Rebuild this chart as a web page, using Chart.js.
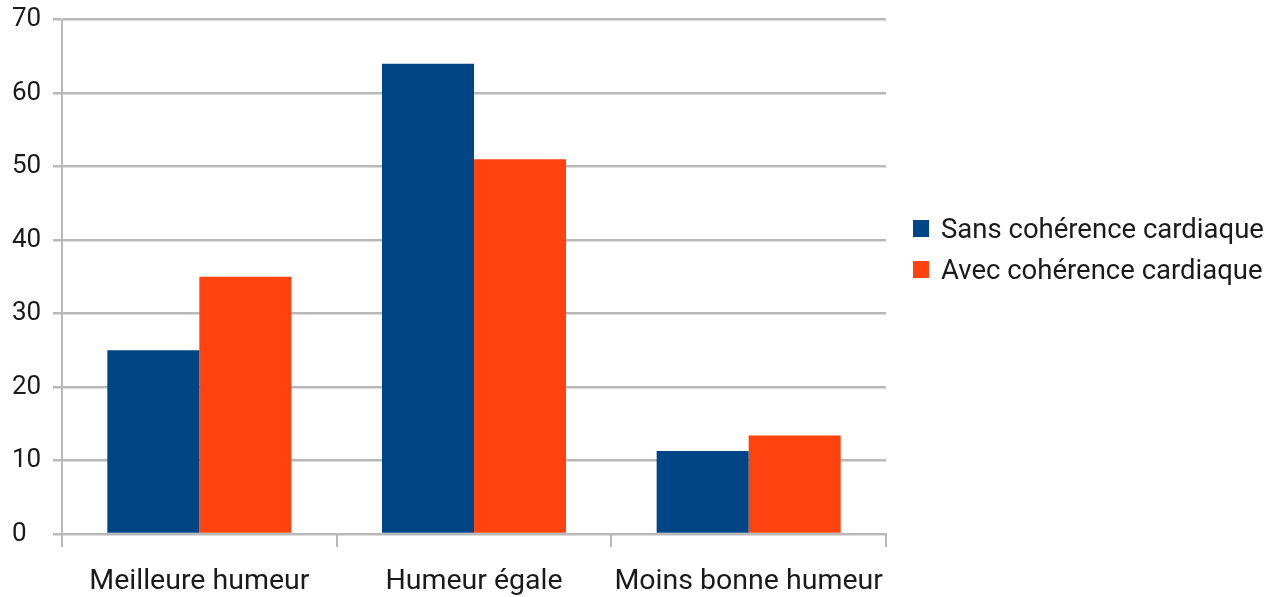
<!DOCTYPE html>
<html>
<head>
<meta charset="utf-8">
<script src="https://cdn.jsdelivr.net/npm/chart.js@4.4.0/dist/chart.umd.min.js"></script>
<style>
  html, body { margin: 0; padding: 0; background: #fff; }
  #wrap { position: relative; width: 1270px; height: 597px; }
  #legend { position: absolute; left: 913px; top: 208px; font-family: Roboto, sans-serif; font-size: 27.5px; color: #1a1a1a; }
  #legend div { height: 41px; display: flex; align-items: center; }
  #legend span.box { width: 16px; height: 17px; margin-right: 12px; display: inline-block; }
</style>
</head>
<body>
<div id="wrap">
  <canvas id="myChart" width="1270" height="597"></canvas>
  <div id="legend"></div>
</div>
<script>
// categories and series
var xValues = ["Meilleure humeur", "Humeur égale", "Moins bonne humeur"];
var seriesNames = ["Sans cohérence cardiaque", "Avec cohérence cardiaque"];
var sansValues = [25, 64, 11.3];
var avecValues = [35, 51, 13.4];
var barColors = ["#004586", "#ff420e"];
var yTicks = [0, 10, 20, 30, 40, 50, 60, 70];

var gridColor = "#b9b9b9";
var textColor = "#1a1a1a";

new Chart("myChart", {
  type: "bar",
  data: {
    labels: xValues,
    datasets: [{
      label: seriesNames[0],
      backgroundColor: barColors[0],
      data: sansValues
    }, {
      label: seriesNames[1],
      backgroundColor: barColors[1],
      data: avecValues
    }]
  },
  options: {
    responsive: false,
    animation: false,
    layout: {padding: {left: 12, top: 18, right: 384, bottom: 0}},
    plugins: {
      legend: {display: false},
      tooltip: {enabled: false}
    },
    datasets: {bar: {barPercentage: 1, categoryPercentage: 0.67}},
    scales: {
      x: {
        grid: {
          offset: true,
          drawOnChartArea: true,
          color: function(ctx) { return ctx.index === 3 ? gridColor : "transparent"; },
          tickColor: gridColor,
          lineWidth: 2,
          tickLength: 13
        },
        border: {display: true, color: gridColor, width: 2},
        ticks: {color: textColor, font: {family: "Roboto, sans-serif", size: 28.5}, padding: 18, maxRotation: 0},
        afterFit: function(axis) { axis.height = 63; }
      },
      y: {
        min: yTicks[0],
        max: yTicks[yTicks.length - 1],
        afterBuildTicks: function(axis) { axis.ticks = yTicks.map(function(v) { return {value: v}; }); },
        grid: {color: gridColor, lineWidth: 2.5, tickLength: 9},
        border: {display: true, color: gridColor, width: 2},
        ticks: {color: textColor, font: {family: "Roboto, sans-serif", size: 26}, crossAlign: "far", padding: 4},
        afterFit: function(axis) { axis.width = 50; }
      }
    }
  }
});

// legend
var legend = document.getElementById("legend");
seriesNames.forEach(function(name, i) {
  var row = document.createElement("div");
  row.innerHTML = '<span class="box" style="background:' + barColors[i] + '"></span>' + name;
  legend.appendChild(row);
});
</script>
</body>
</html>
